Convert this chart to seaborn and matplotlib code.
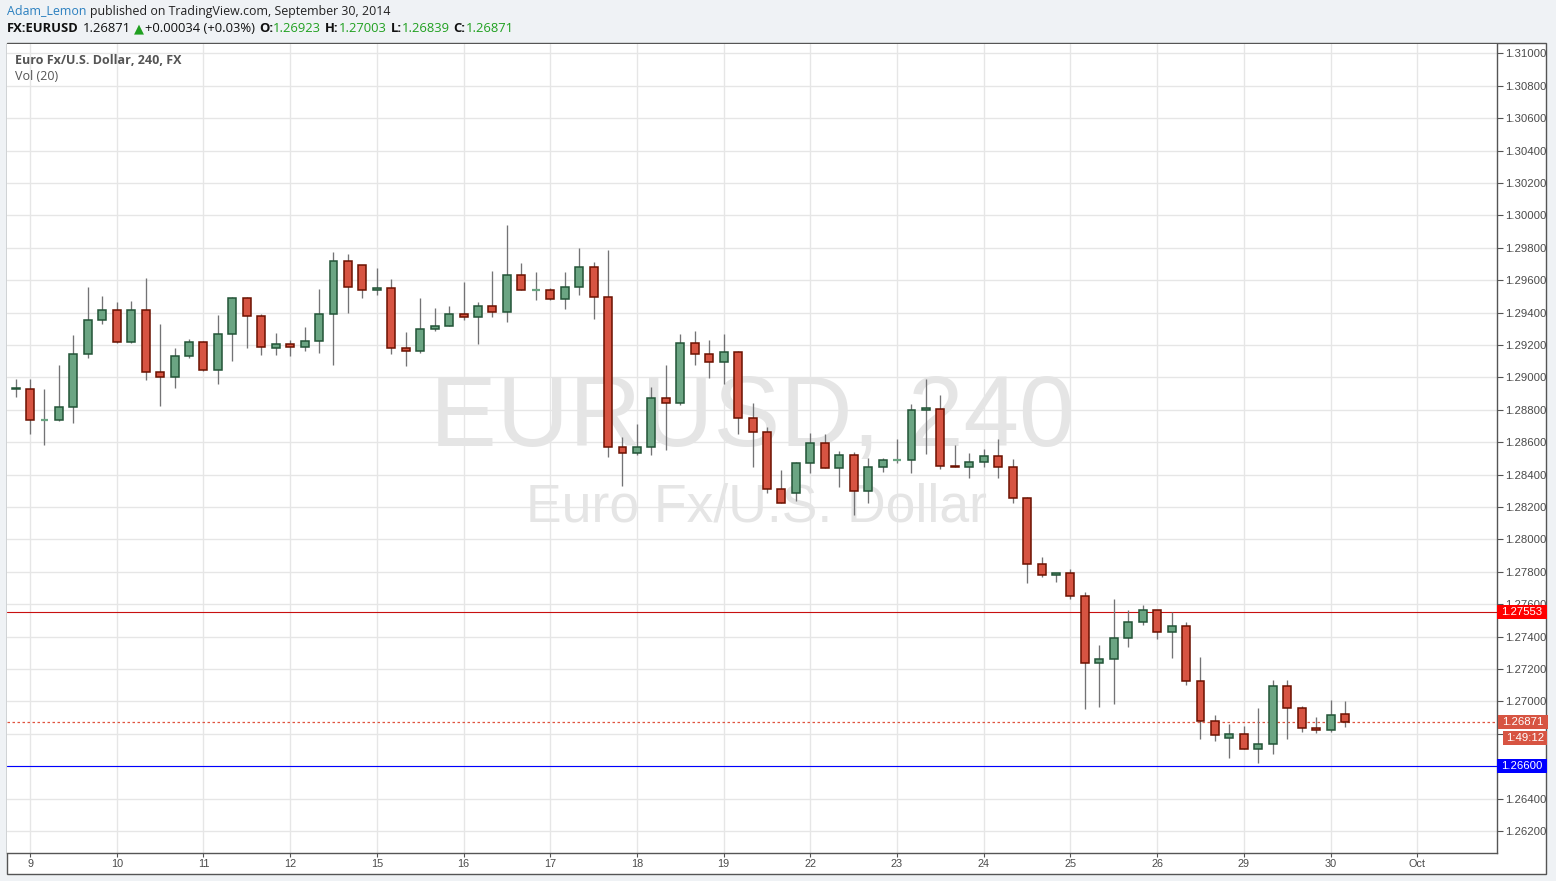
import matplotlib
matplotlib.use("Agg")
import matplotlib.pyplot as plt
import matplotlib.transforms as mtransforms
from matplotlib.patches import Rectangle
import seaborn as sns
import numpy as np

# ---------------- data ----------------
opens = [1.28928, 1.28930, 1.28740, 1.28740, 1.28815, 1.29142, 1.29357, 1.29419, 1.29216, 1.29419,
         1.29031, 1.29000, 1.29129, 1.29216, 1.29043, 1.29265, 1.29487, 1.29376, 1.29181, 1.29206,
         1.29188, 1.29225, 1.29392, 1.29720, 1.29695, 1.29540, 1.29553, 1.29181, 1.29163, 1.29299,
         1.29318, 1.29392, 1.29373, 1.29441, 1.29404, 1.29633, 1.29541, 1.29541, 1.29485, 1.29559,
         1.29683, 1.29498, 1.28572, 1.28535, 1.28572, 1.28874, 1.28843, 1.29214, 1.29146, 1.29096,
         1.29158, 1.28751, 1.28664, 1.28311, 1.28286, 1.28472, 1.28595, 1.28441, 1.28521, 1.28299,
         1.28447, 1.28490, 1.28490, 1.28799, 1.28805, 1.28453, 1.28447, 1.28478, 1.28515, 1.28446,
         1.28254, 1.27847, 1.27779, 1.27791, 1.27649, 1.27236, 1.27260, 1.27390, 1.27489, 1.27563,
         1.27427, 1.27464, 1.27125, 1.26877, 1.26771, 1.26796, 1.26709, 1.26734, 1.27094, 1.26958,
         1.26834, 1.26821, 1.26923]
highs = [1.28990, 1.28990, 1.28930, 1.29076, 1.29261, 1.29557, 1.29501, 1.29464, 1.29470, 1.29612,
         1.29329, 1.29179, 1.29234, 1.29225, 1.29384, 1.29495, 1.29499, 1.29390, 1.29276, 1.29233,
         1.29313, 1.29548, 1.29777, 1.29759, 1.29695, 1.29678, 1.29610, 1.29282, 1.29493, 1.29431,
         1.29443, 1.29586, 1.29468, 1.29654, 1.29938, 1.29709, 1.29648, 1.29553, 1.29648, 1.29796,
         1.29714, 1.29788, 1.28633, 1.28714, 1.28942, 1.29074, 1.29269, 1.29288, 1.29232, 1.29269,
         1.29164, 1.28843, 1.28694, 1.28428, 1.28478, 1.28657, 1.28651, 1.28548, 1.28540, 1.28500,
         1.28502, 1.28620, 1.28836, 1.28990, 1.28893, 1.28583, 1.28533, 1.28558, 1.28620, 1.28495,
         1.28260, 1.27892, 1.27791, 1.27816, 1.27674, 1.27347, 1.27631, 1.27563, 1.27596, 1.27565,
         1.27550, 1.27489, 1.27275, 1.26914, 1.26858, 1.26846, 1.26958, 1.27132, 1.27132, 1.26970,
         1.26902, 1.27007, 1.27003]
lows = [1.28880, 1.28650, 1.28585, 1.28733, 1.28720, 1.29121, 1.29331, 1.29210, 1.29210, 1.28985,
        1.28825, 1.28936, 1.29121, 1.29040, 1.28961, 1.29103, 1.29183, 1.29140, 1.29136, 1.29130,
        1.29161, 1.29148, 1.29074, 1.29396, 1.29489, 1.29507, 1.29142, 1.29068, 1.29148, 1.29285,
        1.29316, 1.29353, 1.29204, 1.29371, 1.29340, 1.29538, 1.29477, 1.29477, 1.29421, 1.29508,
        1.29360, 1.28508, 1.28329, 1.28520, 1.28520, 1.28553, 1.28829, 1.29076, 1.28996, 1.28958,
        1.28650, 1.28448, 1.28288, 1.28225, 1.28235, 1.28408, 1.28440, 1.28323, 1.28149, 1.28225,
        1.28414, 1.28472, 1.28408, 1.28525, 1.28435, 1.28447, 1.28379, 1.28447, 1.28379, 1.28223,
        1.27728, 1.27767, 1.27734, 1.27629, 1.26950, 1.26967, 1.26986, 1.27335, 1.27470, 1.27388,
        1.27267, 1.27098, 1.26769, 1.26757, 1.26651, 1.26709, 1.26620, 1.26676, 1.26769, 1.26809,
        1.26802, 1.26809, 1.26839]
closes = [1.28934, 1.28740, 1.28740, 1.28815, 1.29142, 1.29357, 1.29419, 1.29216, 1.29419, 1.29031,
          1.29000, 1.29129, 1.29216, 1.29043, 1.29265, 1.29487, 1.29376, 1.29185, 1.29206, 1.29188,
          1.29225, 1.29392, 1.29720, 1.29559, 1.29540, 1.29553, 1.29181, 1.29163, 1.29299, 1.29318,
          1.29392, 1.29373, 1.29441, 1.29404, 1.29633, 1.29541, 1.29541, 1.29485, 1.29559, 1.29683,
          1.29498, 1.28572, 1.28535, 1.28572, 1.28874, 1.28843, 1.29214, 1.29146, 1.29096, 1.29158,
          1.28751, 1.28664, 1.28311, 1.28225, 1.28472, 1.28595, 1.28441, 1.28521, 1.28299, 1.28447,
          1.28490, 1.28490, 1.28799, 1.28809, 1.28453, 1.28449, 1.28478, 1.28515, 1.28446, 1.28254,
          1.27847, 1.27779, 1.27791, 1.27649, 1.27236, 1.27260, 1.27390, 1.27489, 1.27563, 1.27427,
          1.27464, 1.27125, 1.26877, 1.26790, 1.26796, 1.26709, 1.26734, 1.27094, 1.26958, 1.26834,
          1.26821, 1.26914, 1.26871]

day_labels = ["9", "10", "11", "12", "15", "16", "17", "18", "19", "22", "23", "24", "25",
              "26", "29", "30", "Oct"]
price_ticks = [1.262, 1.264, 1.266, 1.268, 1.270, 1.272, 1.274, 1.276, 1.278, 1.280, 1.282,
               1.284, 1.286, 1.288, 1.290, 1.292, 1.294, 1.296, 1.298, 1.300, 1.302, 1.304,
               1.306, 1.308, 1.310]
hidden_tick_labels = [1.266, 1.268]  # covered by the price markers in the original
resistance_level = 1.27553
support_level = 1.26600
last_price = 1.26871
countdown = "1:49:12"

# ---------------- style ----------------
sns.set_theme(style="white")
plt.rcParams['font.family'] = ['Liberation Sans', 'DejaVu Sans']

W, H = 1556, 881
fig = plt.figure(figsize=(W / 100, H / 100), dpi=100)
fig.patch.set_facecolor("#eff2f5")

# outer white panel (drawn beneath the axes)
panel = Rectangle((7 / W, 1 - 874 / H), (1546 - 7) / W, (874 - 43) / H,
                  transform=fig.transFigure, facecolor="white", edgecolor="#555555",
                  lw=1.0, zorder=-5)
fig.patches.append(panel)

ax = fig.add_axes([7 / W, 1 - 853 / H, (1497 - 7) / W, (853 - 44) / H])
ax.set_facecolor("white")
ax.set_zorder(1)

n = len(opens)
x = np.arange(n)
o = np.array(opens); h = np.array(highs); l = np.array(lows); c = np.array(closes)
up = c >= o

UP_FILL, UP_EDGE = "#6ba583", "#225437"
DN_FILL, DN_EDGE = "#d75442", "#6b1100"
WICK = "#737375"

# wicks
ax.vlines(x, l, h, color=WICK, lw=0.95, zorder=3)

# bodies
body_w = 0.55
flat = np.abs(c - o) < 1.5e-5
for mask, fill, edge in [(up & ~flat, UP_FILL, UP_EDGE), (~up & ~flat, DN_FILL, DN_EDGE)]:
    ax.bar(x[mask], (np.maximum(o, c) - np.minimum(o, c))[mask],
           bottom=np.minimum(o, c)[mask], width=body_w, color=fill,
           edgecolor=edge, linewidth=1.1, zorder=4)
ax.hlines(o[flat], x[flat] - body_w / 2, x[flat] + body_w / 2, color=UP_FILL, lw=1.6, zorder=4)

# axes limits
ax.set_xlim(-0.595, 102.52)
ax.set_ylim(1.26064, 1.31058)

# grid
day_idx = [1 + 6 * k for k in range(len(day_labels))]
ax.set_xticks(day_idx)
ax.set_xticklabels(day_labels)
ax.set_yticks(price_ticks)
ax.set_yticklabels(["" if any(abs(p - q) < 1e-9 for q in hidden_tick_labels) else f"{p:.5f}"
                    for p in price_ticks])
ax.yaxis.tick_right()
ax.grid(True, color="#e6e6e6", lw=1.0, zorder=0)
ax.set_axisbelow(True)
ax.tick_params(axis="y", which="both", right=True, length=4, width=0.8, color="#555555",
               labelsize=8.2, labelcolor="#4a4a4a", pad=2)
ax.tick_params(axis="x", which="both", bottom=True, length=3, width=0.8, color="#555555",
               labelsize=7.8, labelcolor="#4a4a4a", pad=1)
for s in ["top", "left"]:
    ax.spines[s].set_visible(False)
for s in ["right", "bottom"]:
    ax.spines[s].set_color("#555555")
    ax.spines[s].set_linewidth(1.0)

# watermark
ax.text(0.5, (1 - (420 - 44) / (853 - 44)), "EURUSD, 240", transform=ax.transAxes,
        ha="center", va="center", fontsize=72, color="#e5e5e5", zorder=1)
ax.text(0.5031, (1 - (507 - 44) / (853 - 44)), "Euro Fx/U.S. Dollar", transform=ax.transAxes,
        ha="center", va="center", fontsize=38.5, color="#e5e5e5", zorder=1)

# horizontal levels
ax.axhline(resistance_level, color="#c81010", lw=0.8, zorder=2)
ax.axhline(support_level, color="#0000ff", lw=0.8, zorder=2)
ax.axhline(last_price, color="#e0533f", lw=0.9, ls=(0, (2, 2)), zorder=2)

# right-hand price labels
blend = mtransforms.blended_transform_factory(ax.transAxes, ax.transData)
px_w = (1497 - 7)
box_h = 14 / 16200.0

def price_box(y, text, face, x0_px=0, w_px=50, dy=0.0):
    x0 = x0_px / px_w
    w = w_px / px_w
    ax.add_patch(Rectangle((1 + x0, y + dy - box_h / 2), w, box_h, transform=blend,
                           facecolor=face, edgecolor="none", clip_on=False, zorder=10))
    ax.text(1 + x0 + w / 2, y + dy, text, transform=blend, ha="center", va="center",
            color="white", fontsize=8.2, zorder=11, clip_on=False)

price_box(resistance_level, f"{resistance_level:.5f}", "#ff0000")
price_box(last_price, f"{last_price:.5f}", "#d75442", x0_px=1)
price_box(last_price, countdown, "#d75442", x0_px=6, w_px=44, dy=-16 / 16200.0)
price_box(support_level, f"{support_level:.5f}", "#0000ff")

# in-chart legend texts
ax.text(8 / px_w, 1 - (60 - 44) / (853 - 44), "Euro Fx/U.S. Dollar, 240, FX", transform=ax.transAxes,
        ha="left", va="center", fontsize=9.0, color="#555555", fontweight="bold",
        family=["Open Sans", "DejaVu Sans"])
ax.text(8 / px_w, 1 - (77 - 44) / (853 - 44), "Vol (20)", transform=ax.transAxes,
        ha="left", va="center", fontsize=9.0, color="#555555",
        family=["Open Sans", "DejaVu Sans"])

# header
renderer = fig.canvas.get_renderer()

def pieces(x_px, y_px, items, size):
    xp = x_px
    for s, color, weight, gap in items:
        t = fig.text(xp / W, 1 - y_px / H, s, color=color, fontweight=weight, fontsize=size,
                     ha="left", va="center", family=["Open Sans", "DejaVu Sans"])
        bb = t.get_window_extent(renderer)
        xp += bb.width + gap

pieces(7, 11, [("Adam_Lemon", "#2a7fbf", "normal", 4),
               ("published on TradingView.com, September 30, 2014", "#222222", "normal", 0)], 8.95)
GREEN = "#20a020"
pieces(7, 29, [("FX:EURUSD", "#111111", "bold", 4),
               ("1.26871", "#111111", "normal", 3),
               ("\u25B2", GREEN, "normal", 1),
               ("+0.00034 (+0.03%)", "#111111", "normal", 4),
               ("O:", "#111111", "bold", 0), ("1.26923", GREEN, "normal", 4),
               ("H:", "#111111", "bold", 0), ("1.27003", GREEN, "normal", 4),
               ("L:", "#111111", "bold", 0), ("1.26839", GREEN, "normal", 4),
               ("C:", "#111111", "bold", 0), ("1.26871", GREEN, "normal", 0)], 9.35)

fig.savefig("out.png", dpi=100, facecolor=fig.get_facecolor())
